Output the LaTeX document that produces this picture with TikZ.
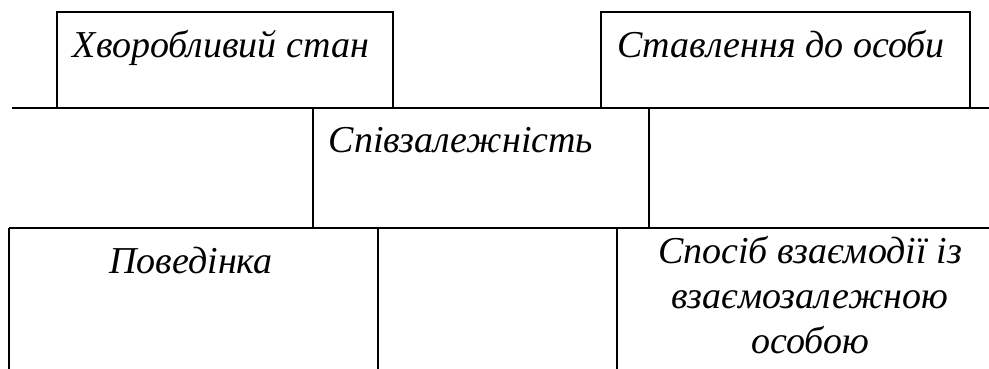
\documentclass[tikz,border=0pt]{standalone}
\usepackage{fontspec}
\setmainfont{Liberation Serif}
\begin{document}
\begin{tikzpicture}[x=1pt,y=-1pt,
  ln/.style={line width=1.6pt,black},
  lbl/.style={font=\fontsize{38}{45}\selectfont\itshape,inner sep=0pt,anchor=base,align=center}]
\useasboundingbox (0,0) rectangle (989,369);
% top boxes
\draw[ln] (57,108) -- (57,12) -- (393,12) -- (393,108);
\draw[ln] (601,108) -- (601,12) -- (970,12) -- (970,108);
% upper horizontal
\draw[ln] (12,108) -- (989,108);
% middle verticals
\draw[ln] (313,108) -- (313,228);
\draw[ln] (649,108) -- (649,228);
% lower horizontal
\draw[ln] (9,228) -- (989,228);
% bottom verticals
\draw[ln] (9,228) -- (9,369);
\draw[ln] (378,228) -- (378,369);
\draw[ln] (617,228) -- (617,369);
% labels
\node[lbl] (t1) at (221,58) {Хворобливий стан};
\node[lbl] (t2) at (781,58) {Ставлення до особи};
\node[lbl] (m) at (461,153) {Співзалежність};
\node[lbl] (b1) at (191,273) {Поведінка};
\node[lbl] (b2) at (810,353) {Спосіб взаємодії із\\взаємозалежною\\особою};
\end{tikzpicture}
\end{document}
